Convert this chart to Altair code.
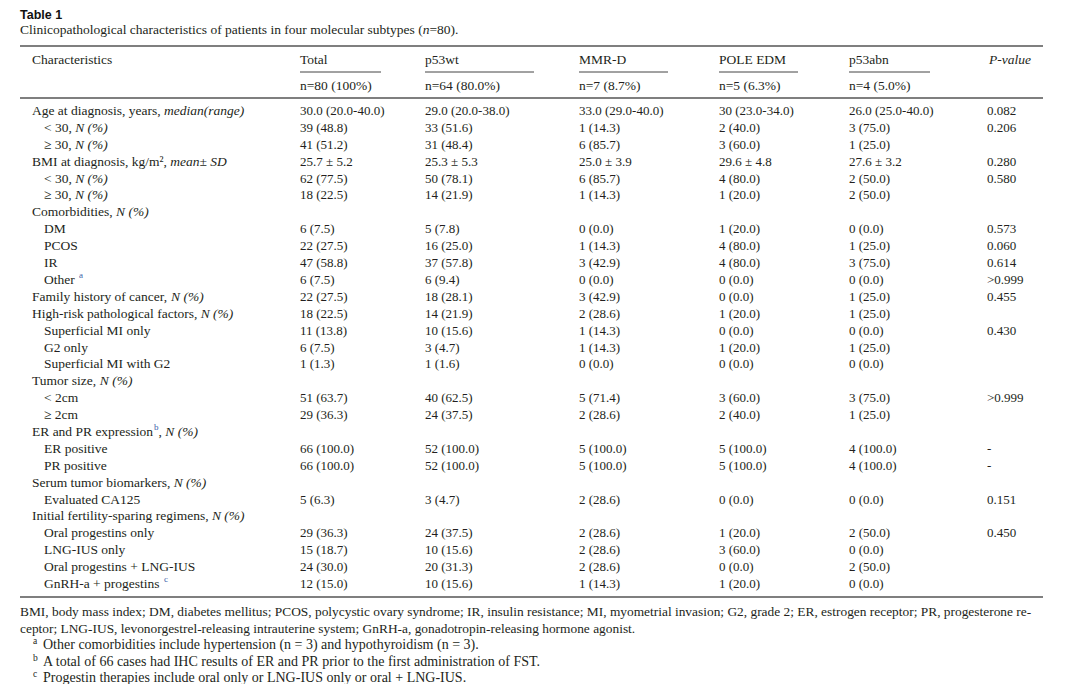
import altair as alt
import pandas as pd

# ---------------- data ----------------
label_text = ["Age at diagnosis, years, ", "< 30, ", "≥ 30, ", "BMI at diagnosis, kg/m², ", "< 30, ", "≥ 30, ",
              "Comorbidities, ", "DM", "PCOS", "IR", "Other ", "Family history of cancer, ",
              "High-risk pathological factors, ", "Superficial MI only", "G2 only", "Superficial MI with G2",
              "Tumor size, ", "< 2cm", "≥ 2cm", "ER and PR expression", "ER positive", "PR positive",
              "Serum tumor biomarkers, ", "Evaluated CA125", "Initial fertility-sparing regimens, ",
              "Oral progestins only", "LNG-IUS only", "Oral progestins + LNG-IUS", "GnRH-a + progestins "]
label_italic = ["median(range)", "N (%)", "N (%)", "mean± SD", "N (%)", "N (%)", "N (%)", "", "", "", "",
                "N (%)", "N (%)", "", "", "", "N (%)", "", "", "N (%)", "", "", "N (%)", "", "N (%)", "", "", "", ""]
label_sup = ["", "", "", "", "", "", "", "", "", "", "a", "", "", "", "", "", "", "", "", "b", "", "", "", "", "",
             "", "", "", "c"]
indent = [0, 1, 1, 0, 1, 1, 0, 1, 1, 1, 1, 0, 0, 1, 1, 1, 0, 1, 1, 0, 1, 1, 0, 1, 0, 1, 1, 1, 1]

total = ["30.0 (20.0-40.0)", "39 (48.8)", "41 (51.2)", "25.7 ± 5.2", "62 (77.5)", "18 (22.5)", "", "6 (7.5)",
         "22 (27.5)", "47 (58.8)", "6 (7.5)", "22 (27.5)", "18 (22.5)", "11 (13.8)", "6 (7.5)", "1 (1.3)", "",
         "51 (63.7)", "29 (36.3)", "", "66 (100.0)", "66 (100.0)", "", "5 (6.3)", "", "29 (36.3)", "15 (18.7)",
         "24 (30.0)", "12 (15.0)"]
p53wt = ["29.0 (20.0-38.0)", "33 (51.6)", "31 (48.4)", "25.3 ± 5.3", "50 (78.1)", "14 (21.9)", "", "5 (7.8)",
         "16 (25.0)", "37 (57.8)", "6 (9.4)", "18 (28.1)", "14 (21.9)", "10 (15.6)", "3 (4.7)", "1 (1.6)", "",
         "40 (62.5)", "24 (37.5)", "", "52 (100.0)", "52 (100.0)", "", "3 (4.7)", "", "24 (37.5)", "10 (15.6)",
         "20 (31.3)", "10 (15.6)"]
mmrd = ["33.0 (29.0-40.0)", "1 (14.3)", "6 (85.7)", "25.0 ± 3.9", "6 (85.7)", "1 (14.3)", "", "0 (0.0)",
        "1 (14.3)", "3 (42.9)", "0 (0.0)", "3 (42.9)", "2 (28.6)", "1 (14.3)", "1 (14.3)", "0 (0.0)", "",
        "5 (71.4)", "2 (28.6)", "", "5 (100.0)", "5 (100.0)", "", "2 (28.6)", "", "2 (28.6)", "2 (28.6)",
        "2 (28.6)", "1 (14.3)"]
pole = ["30 (23.0-34.0)", "2 (40.0)", "3 (60.0)", "29.6 ± 4.8", "4 (80.0)", "1 (20.0)", "", "1 (20.0)",
        "4 (80.0)", "4 (80.0)", "0 (0.0)", "0 (0.0)", "1 (20.0)", "0 (0.0)", "1 (20.0)", "0 (0.0)", "",
        "3 (60.0)", "2 (40.0)", "", "5 (100.0)", "5 (100.0)", "", "0 (0.0)", "", "1 (20.0)", "3 (60.0)",
        "0 (0.0)", "1 (20.0)"]
p53abn = ["26.0 (25.0-40.0)", "3 (75.0)", "1 (25.0)", "27.6 ± 3.2", "2 (50.0)", "2 (50.0)", "", "0 (0.0)",
          "1 (25.0)", "3 (75.0)", "0 (0.0)", "1 (25.0)", "1 (25.0)", "0 (0.0)", "1 (25.0)", "0 (0.0)", "",
          "3 (75.0)", "1 (25.0)", "", "4 (100.0)", "4 (100.0)", "", "0 (0.0)", "", "2 (50.0)", "0 (0.0)",
          "2 (50.0)", "0 (0.0)"]
pval = ["0.082", "0.206", "", "0.280", "0.580", "", "", "0.573", "0.060", "0.614", ">0.999", "0.455", "",
        "0.430", "", "", "", ">0.999", "", "", "-", "-", "", "0.151", "", "0.450", "", "", ""]

groups = ["Total", "p53wt", "MMR-D", "POLE EDM", "p53abn"]
group_n = ["n=80 (100%)", "n=64 (80.0%)", "n=7 (8.7%)", "n=5 (6.3%)", "n=4 (5.0%)"]

title_text = "Table 1"
subtitle_text = "Clinicopathological characteristics of patients in four molecular subtypes ("
footnote_lines = [
    "BMI, body mass index; DM, diabetes mellitus; PCOS, polycystic ovary syndrome; IR, insulin resistance; MI, myometrial invasion; G2, grade 2; ER, estrogen receptor; PR, progesterone re-",
    "ceptor; LNG-IUS, levonorgestrel-releasing intrauterine system; GnRH-a, gonadotropin-releasing hormone agonist.",
]
footnote_marks = ["a", "b", "c"]
footnote_notes = [
    "Other comorbidities include hypertension (n = 3) and hypothyroidism (n = 3).",
    "A total of 66 cases had IHC results of ER and PR prior to the first administration of FST.",
    "Progestin therapies include oral only or LNG-IUS only or oral + LNG-IUS.",
]

# ---------------- layout / style ----------------
FONT = "Liberation Serif"
FS = 13          # numbers
FL = 13.5        # labels / headers
INK = "#231f20"
W, H = 1064, 676
col_x = [292, 417, 571, 711, 841]        # left edges of the data columns (plot px)
col_end = [373, 526, 660, 790, 922]      # header underline ends
pval_x = 979
label_x0, label_x1 = 24, 36

# Times-Roman metrics (Liberation Serif is metric compatible) for text-run offsets
_w = {' ': 250, ',': 250, '.': 250, '-': 333, '(': 333, ')': 333, '%': 833, '/': 278, ':': 278, ';': 278,
      '+': 564, '<': 564, '≥': 549, '±': 564, '²': 300, '=': 564}
_w.update({c: 500 for c in "0123456789"})
_w.update(dict(zip("abcdefghijklmnopqrstuvwxyz",
                   [444, 500, 444, 500, 444, 333, 500, 500, 278, 278, 500, 278, 778, 500, 500, 500, 500, 333, 389,
                    278, 500, 500, 722, 500, 500, 444])))
_w.update(dict(zip("ABCDEFGHIJKLMNOPQRSTUVWXYZ",
                   [722, 667, 667, 722, 611, 556, 722, 722, 333, 389, 722, 611, 889, 722, 722, 556, 722, 667, 556,
                    611, 722, 722, 944, 722, 722, 611])))


def tw(s, size):
    return sum(_w.get(ch, 500) for ch in s) * size / 1000.0


# label segments
seg_rows = []
for r, (t, it, sp, ind) in enumerate(zip(label_text, label_italic, label_sup, indent)):
    x = label_x1 if ind else label_x0
    seg_rows.append({"row": r, "x": x, "text": t, "style": "n"})
    x += tw(t, FL)
    if sp:
        seg_rows.append({"row": r, "x": x + 1, "text": sp, "style": "sup"})
        x += tw(sp, 9) + 1
        if it:
            seg_rows.append({"row": r, "x": x, "text": ", ", "style": "n"})
            x += tw(", ", FL)
    if it:
        seg_rows.append({"row": r, "x": x, "text": it, "style": "i"})
segs = pd.DataFrame(seg_rows)

val_rows = []
for c, vals in enumerate([total, p53wt, mmrd, pole, p53abn]):
    for r, v in enumerate(vals):
        if v:
            val_rows.append({"row": r, "x": col_x[c], "text": v})
for r, v in enumerate(pval):
    if v:
        val_rows.append({"row": r, "x": pval_x, "text": v})
vals_df = pd.DataFrame(val_rows)

n_rows = len(label_text)
xs = alt.Scale(domain=[0, W], range=[0, W], nice=False, zero=False)
ys = alt.Scale(domain=[0, n_rows - 1], range=[103, 576], nice=False, zero=False)


def txt(**kw):
    base = dict(font=FONT, fontSize=FS, color=INK, align="left", baseline="middle")
    base.update(kw)
    return base


layers = []

# body values
layers.append(alt.Chart(vals_df).mark_text(**txt()).encode(
    x=alt.X("x:Q", scale=xs, axis=None), y=alt.Y("row:Q", scale=ys, axis=None), text="text:N"))
# labels
layers.append(alt.Chart(segs[segs["style"] == "n"]).mark_text(**txt(fontSize=FL)).encode(
    x=alt.X("x:Q", scale=xs, axis=None), y=alt.Y("row:Q", scale=ys, axis=None), text="text:N"))
layers.append(alt.Chart(segs[segs["style"] == "i"]).mark_text(**txt(fontSize=FL, fontStyle="italic")).encode(
    x=alt.X("x:Q", scale=xs, axis=None), y=alt.Y("row:Q", scale=ys, axis=None), text="text:N"))
layers.append(alt.Chart(segs[segs["style"] == "sup"]).mark_text(**txt(fontSize=9, color="#3b5fa8", dy=-5)).encode(
    x=alt.X("x:Q", scale=xs, axis=None), y=alt.Y("row:Q", scale=ys, axis=None), text="text:N"))

# headers
hdr = pd.DataFrame({"text": ["Characteristics"] + groups, "x": [label_x0] + col_x})
layers.append(alt.Chart(hdr).mark_text(**txt(fontSize=FL)).encode(
    x=alt.X("x:Q", scale=xs, axis=None), y=alt.value(52), text="text:N"))
ndf = pd.DataFrame({"text": group_n, "x": col_x})
layers.append(alt.Chart(ndf).mark_text(**txt(fontSize=FL)).encode(
    x=alt.X("x:Q", scale=xs, axis=None), y=alt.value(78), text="text:N"))
layers.append(alt.Chart(pd.DataFrame({"t": ["P-value"]})).mark_text(
    **txt(fontSize=FL, fontStyle="italic", align="right")).encode(
    x=alt.value(1023), y=alt.value(52), text="t:N"))
udf = pd.DataFrame({"x": col_x, "x2": col_end})
layers.append(alt.Chart(udf).mark_rule(color="#444", strokeWidth=1).encode(
    x=alt.X("x:Q", scale=xs, axis=None), x2="x2:Q", y=alt.value(64)))

# horizontal rules
for yv, sw in [(38, 1.6), (90, 1.6), (589, 1.6)]:
    layers.append(alt.Chart(pd.DataFrame({"k": [0]})).mark_rule(color="#555", strokeWidth=sw).encode(
        x=alt.value(12), x2=alt.value(1035), y=alt.value(yv)))

# title
layers.append(alt.Chart(pd.DataFrame({"t": [title_text]})).mark_text(
    **txt(font="Liberation Sans", fontWeight="bold", fontSize=12.5, color="#111")).encode(
    x=alt.value(12), y=alt.value(7), text="t:N"))
sub_x = 12
layers.append(alt.Chart(pd.DataFrame({"t": [subtitle_text]})).mark_text(**txt(fontSize=13.5)).encode(
    x=alt.value(sub_x), y=alt.value(22), text="t:N"))
sx = sub_x + tw(subtitle_text, 13.5)
layers.append(alt.Chart(pd.DataFrame({"t": ["n"]})).mark_text(**txt(fontSize=13.5, fontStyle="italic")).encode(
    x=alt.value(sx), y=alt.value(22), text="t:N"))
sx += tw("n", 13.5)
layers.append(alt.Chart(pd.DataFrame({"t": ["=80)."]})).mark_text(**txt(fontSize=13.5)).encode(
    x=alt.value(sx), y=alt.value(22), text="t:N"))

# footnotes
FN = 13.4
for i, line in enumerate(footnote_lines):
    layers.append(alt.Chart(pd.DataFrame({"t": [line]})).mark_text(**txt(fontSize=FN)).encode(
        x=alt.value(12), y=alt.value(604 + 16.5 * i), text="t:N"))
for i, (m, note) in enumerate(zip(footnote_marks, footnote_notes)):
    yy = 637 + 16.5 * i
    layers.append(alt.Chart(pd.DataFrame({"t": [m]})).mark_text(**txt(fontSize=9.5, dy=-4)).encode(
        x=alt.value(25), y=alt.value(yy), text="t:N"))
    layers.append(alt.Chart(pd.DataFrame({"t": [note]})).mark_text(**txt(fontSize=14)).encode(
        x=alt.value(35), y=alt.value(yy), text="t:N"))

chart = alt.layer(*layers).properties(
    width=W, height=H, padding=0, autosize=alt.AutoSizeParams(type="none")
).configure(
    background="white",
    view=alt.ViewConfig(stroke="transparent", strokeWidth=0),
)

chart.save("out.html", embed_options={"renderer": "svg", "actions": False})
